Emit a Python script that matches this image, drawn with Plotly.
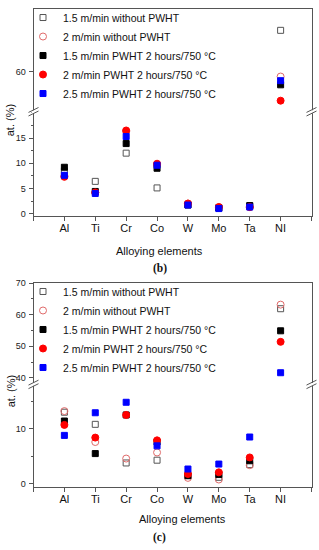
import plotly.graph_objects as go

# ---------------- data ----------------
elements = ["Al", "Ti", "Cr", "Co", "W", "Mo", "Ta", "NI"]
series_names = [
    "1.5 m/min without PWHT",
    "2 m/min without PWHT",
    "1.5 m/min PWHT 2 hours/750 °C",
    "2 m/min PWHT 2 hours/750 °C",
    "2.5 m/min PWHT 2 hours/750 °C",
]

# panel (b)
b_15_no = [8.5, 6.4, 12.0, 5.1, 1.8, 1.2, 1.5, 66.0]
b_2_no = [7.5, 4.2, 16.3, 9.7, 2.0, 1.3, 1.3, 59.3]
b_15_pw = [9.2, 4.4, 13.9, 9.0, 1.7, 1.1, 1.6, 58.1]
b_2_pw = [7.3, 4.2, 16.5, 9.9, 2.0, 1.3, 1.3, 55.8]
b_25_pw = [7.6, 4.0, 15.3, 9.6, 1.7, 1.0, 1.3, 58.7]

# panel (c)
c_15_no = [13.0, 10.8, 3.8, 4.3, 1.5, 1.2, 3.5, 61.9]
c_2_no = [13.2, 7.6, 4.6, 5.7, 1.1, 0.8, 3.4, 63.2]
c_15_pw = [11.4, 5.5, 12.5, 7.6, 1.5, 1.7, 4.2, 54.9]
c_2_pw = [10.7, 8.4, 12.5, 7.9, 1.8, 2.1, 4.8, 51.4]
c_25_pw = [8.8, 12.9, 14.8, 6.9, 2.7, 3.6, 8.5, 41.6]

b_series = [b_15_no, b_2_no, b_15_pw, b_2_pw, b_25_pw]
c_series = [c_15_no, c_2_no, c_15_pw, c_2_pw, c_25_pw]

# axis ranges (broken axes)
b_low_range = [-0.51, 20.22]
b_up_range = [54.2, 69.03]
c_low_range = [-0.59, 18.04]
c_up_range = [37.9, 70.0]

# ---------------- styles ----------------
symbols = ["square-open", "circle-open", "square", "circle", "square"]
colors = ["#555555", "#e06a6a", "#000000", "#ff0000", "#0000ff"]
msizes = [6, 7, 6, 7, 6]

W, H = 319, 550
def px(x):
    return x / W
def py(y):
    return 1 - y / H

XL, XR = 33.5, 311.5
B_BOT, B_BRK, B_TOP = 214.3, 108.3, 4.5
C_BOT, C_BRK, C_TOP = 489.3, 385.0, 282.3

xpos = list(range(1, len(elements) + 1))

fig = go.Figure()

def add_panel(series, brk_val, xa_low, ya_low, xa_up, ya_up, legend):
    for i, vals in enumerate(series):
        lo_x = [x for x, v in zip(xpos, vals) if v < brk_val]
        lo_y = [v for v in vals if v < brk_val]
        up_x = [x for x, v in zip(xpos, vals) if v >= brk_val]
        up_y = [v for v in vals if v >= brk_val]
        mk = dict(symbol=symbols[i], color=colors[i], size=msizes[i],
                  line=dict(color=colors[i], width=1))
        fig.add_trace(go.Scatter(x=lo_x, y=lo_y, mode="markers", marker=mk,
                                 name=series_names[i], xaxis=xa_low, yaxis=ya_low,
                                 legend=legend, showlegend=True))
        fig.add_trace(go.Scatter(x=up_x, y=up_y, mode="markers", marker=mk,
                                 name=series_names[i], xaxis=xa_up, yaxis=ya_up,
                                 legend=legend, showlegend=False))

add_panel(b_series, b_low_range[1], "x", "y", "x2", "y2", "legend")
add_panel(c_series, c_low_range[1], "x3", "y3", "x4", "y4", "legend2")

LINE = "#555555"
TICKF = dict(family="Liberation Sans, Arial", size=9, color="#222222")

xdomain = [px(XL), px(XR)]
tickvals = list(range(0, len(elements) + 2))
ticktext = [""] + elements + [""]

def xlow(anchor):
    return dict(domain=xdomain, range=[0, len(elements) + 1], anchor=anchor,
                showline=True, linecolor=LINE, linewidth=1, mirror=False,
                ticks="outside", ticklen=4, tickcolor=LINE, tickwidth=1,
                tickvals=tickvals, ticktext=ticktext, showgrid=False, zeroline=False,
                tickfont=dict(family="Liberation Sans, Arial", size=11, color="#111111"),
                ticklabelstandoff=-2)

def xup(anchor, match):
    return dict(domain=xdomain, range=[0, len(elements) + 1], anchor=anchor, matches=match,
                side="top", showline=True, linecolor=LINE, linewidth=1,
                ticks="", showticklabels=False, showgrid=False, zeroline=False)

def yax(domain, rng, anchor, tickv, minor_dtick=None):
    d = dict(domain=domain, range=rng, anchor=anchor, showline=True, linecolor=LINE,
             linewidth=1, mirror=True, ticks="outside", ticklen=4, tickcolor=LINE,
             tickwidth=1, tickvals=tickv, showgrid=False, zeroline=False, tickfont=TICKF,
             ticklabelstandoff=1)
    if minor_dtick:
        d["minor"] = dict(ticks="outside", ticklen=2, dtick=minor_dtick, tick0=0,
                          tickcolor=LINE, showgrid=False)
    return d

LEGF = dict(family="Liberation Sans, Arial", size=10.5, color="#111111")
fig.update_layout(
    width=W, height=H, autosize=False,
    margin=dict(l=0, r=0, t=0, b=0),
    paper_bgcolor="white", plot_bgcolor="white",
    xaxis=xlow("y"),
    yaxis=yax([py(B_BOT), py(B_BRK)], b_low_range, "x", [0, 5, 10, 15], 2.5),
    xaxis2=xup("y2", "x"),
    yaxis2=yax([py(B_BRK), py(B_TOP)], b_up_range, "x2", [60]),
    xaxis3=xlow("y3"),
    yaxis3=yax([py(C_BOT), py(C_BRK)], c_low_range, "x3", [0, 10], 5),
    xaxis4=xup("y4", "x3"),
    yaxis4=yax([py(C_BRK), py(C_TOP)], c_up_range, "x4", [40, 50, 60, 70], 5),
    legend=dict(x=px(23), y=py(-2), xanchor="left", yanchor="top",
                bgcolor="rgba(0,0,0,0)", borderwidth=0, tracegroupgap=0, font=LEGF),
    legend2=dict(x=px(23), y=py(276), xanchor="left", yanchor="top",
                 bgcolor="rgba(0,0,0,0)", borderwidth=0, tracegroupgap=0, font=LEGF),
)

# axis titles and panel labels
AF = dict(family="Liberation Sans, Arial", size=11, color="#111111")
anns = [
    dict(text="Alloying elements", x=px(159.5), y=py(249.3), font=AF),
    dict(text="Alloying elements", x=px(182), y=py(521.7), font=AF),
    dict(text="at. (%)", x=px(10), y=py(117), font=AF, textangle=-90),
    dict(text="at. (%)", x=px(11), y=py(392), font=AF, textangle=-90),
    dict(text="<b>(b)</b>", x=px(159.5), y=py(267.5),
         font=dict(family="Liberation Serif, Times New Roman", size=11.5, color="#111111")),
    dict(text="<b>(c)</b>", x=px(159.5), y=py(540.5),
         font=dict(family="Liberation Serif, Times New Roman", size=11.5, color="#111111")),
]
for a in anns:
    a.update(xref="paper", yref="paper", showarrow=False, xanchor="center", yanchor="middle")
    fig.add_annotation(**a)

# break marks on the axes
shapes = []
for yb in (B_BRK, C_BRK):
    for xb in (XL, XR):
        shapes.append(dict(type="rect", xref="paper", yref="paper",
                           x0=px(xb - 2), x1=px(xb + 2), y0=py(yb + 1.5), y1=py(yb - 1.5),
                           fillcolor="white", line=dict(width=0), layer="above"))
        for off in (-1.8, 1.8):
            shapes.append(dict(type="line", xref="paper", yref="paper",
                               x0=px(xb - 5), y0=py(yb + off + 2.5),
                               x1=px(xb + 5), y1=py(yb + off - 2.5),
                               line=dict(color=LINE, width=1), layer="above"))
fig.update_layout(shapes=shapes)

fig.write_html(
    "out.html",
    config={"displayModeBar": False},
    post_script="document.body.style.margin='0';document.documentElement.style.overflow='hidden';",
)
